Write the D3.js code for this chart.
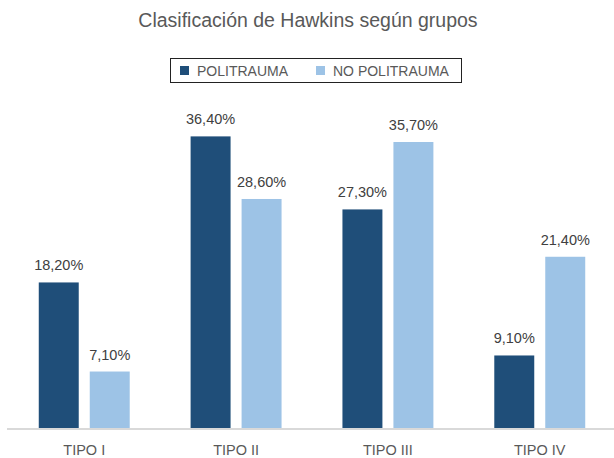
<!DOCTYPE html>
<html><head><meta charset="utf-8">
<script src="https://cdn.jsdelivr.net/npm/d3@7"></script>
<style>body{margin:0;background:#fff}svg{display:block;font-family:"Liberation Sans",Arial,Helvetica,sans-serif}</style>
</head><body><svg id="c" width="614" height="458"></svg>
<script>
const categories = ["TIPO I","TIPO II","TIPO III","TIPO IV"];
const seriesNames = ["POLITRAUMA","NO POLITRAUMA"];
const politrauma = [18.2, 36.4, 27.3, 9.1];
const noPolitrauma = [7.1, 28.6, 35.7, 21.4];
const colors = ["#1F4E79","#9DC3E6"];
const title = "Clasificación de Hawkins según grupos";

const svg = d3.select("#c");
const series = [politrauma, noPolitrauma];
const x0 = d3.scaleBand().domain(categories).range([8, 616]).paddingInner(0.401).paddingOuter(0.2026);
const x1 = d3.scaleBand().domain(seriesNames).range([0, x0.bandwidth()]).paddingInner(0.216);
const y = d3.scaleLinear().domain([0, 40]).range([428.5, 107.5]);
const fmt = v => v.toFixed(2).replace(".", ",") + "%";

svg.append("text").attr("x", 308).attr("y", 27).attr("text-anchor","middle")
  .attr("font-size", 19.5).attr("fill", "#595959").text(title);

// legend
const lg = svg.append("g");
lg.append("rect").attr("x", 170.5).attr("y", 58.5).attr("width", 291).attr("height", 24)
  .attr("fill","none").attr("stroke","#222").attr("stroke-width",1);
const legX = [180, 316];
seriesNames.forEach((s,i)=>{
  lg.append("rect").attr("x", legX[i]).attr("y", 66).attr("width", 9).attr("height", 9).attr("fill", colors[i]);
  lg.append("text").attr("x", legX[i]+17).attr("y", 75.5).attr("font-size", 14).attr("fill","#595959").text(s);
});

const g = svg.append("g");
categories.forEach((c, ci) => {
  seriesNames.forEach((s, si) => {
    const v = series[si][ci];
    const bx = x0(c) + x1(s);
    g.append("rect").attr("x", bx).attr("y", y(v)).attr("width", x1.bandwidth())
      .attr("height", y(0) - y(v)).attr("fill", colors[si]);
    g.append("text").attr("x", bx + x1.bandwidth()/2).attr("y", y(v) - 12)
      .attr("text-anchor","middle").attr("font-size", 14.5).attr("fill","#404040").text(fmt(v));
  });
});

// axis
const ax = svg.append("g").attr("transform", `translate(0,${y(0)})`)
  .call(d3.axisBottom(x0).tickSize(0).tickPadding(16));
ax.select(".domain").remove();
svg.append("line").attr("x1", 7).attr("x2", 614).attr("y1", y(0)+0.5).attr("y2", y(0)+0.5)
  .attr("stroke","#d9d9d9").attr("stroke-width", 2);
ax.selectAll("text").attr("font-size", 14.5).attr("fill","#595959")
  .attr("font-family","'Liberation Sans',Arial,sans-serif");
</script></body></html>
